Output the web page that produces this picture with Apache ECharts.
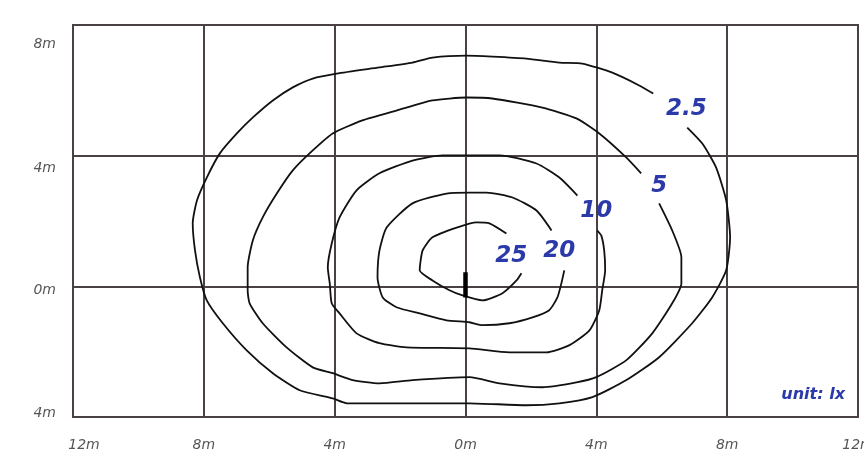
<!DOCTYPE html>
<html><head><meta charset="utf-8">
<script src="https://cdn.jsdelivr.net/npm/echarts@6/dist/echarts.min.js"></script>
<style>html,body{margin:0;padding:0;background:#fff}#c{width:864px;height:457px}</style>
</head><body><div id="c"></div>
<script>
// Tick labels (negative side shown without minus, as in the reference)
const xTickValues = [-12, -8, -4, 0, 4, 8, 12];
const xTickLabels = ['12m', '8m', '4m', '0m', '4m', '8m', '12m'];
const yTickValues = [-4, 0, 4, 8];
const yTickLabels = ['4m', '0m', '4m', '8m'];

// Isolux contour lines [x m, y m] (open where the label sits)
const contour2_5 = [[5.74,5.90],[5.31,6.15],[4.49,6.54],[3.57,6.82],[2.87,6.85],[1.86,6.97],[0.82,7.03],[0.03,7.06],[-1.01,7.00],[-1.62,6.85],[-2.63,6.70],[-3.94,6.51],[-4.67,6.36],[-5.28,6.09],[-5.89,5.69],[-6.50,5.17],[-6.99,4.68],[-7.51,4.07],[-7.91,3.33],[-8.21,2.63],[-8.34,1.93],[-8.27,1.10],[-8.12,0.28],[-7.91,-0.43],[-7.42,-1.13],[-6.69,-1.96],[-5.89,-2.66],[-5.07,-3.18],[-4.06,-3.43],[-3.63,-3.58],[-2.02,-3.58],[0.12,-3.58],[1.86,-3.64],[2.87,-3.58],[3.88,-3.39],[4.92,-2.87],[5.92,-2.17],[6.93,-1.13],[7.54,-0.34],[7.97,0.49],[8.09,1.50],[7.97,2.63],[7.66,3.64],[7.24,4.37],[6.78,4.86]];
const contour5 = [[5.37,3.46],[4.92,3.94],[4.09,4.68],[3.39,5.14],[2.35,5.47],[0.82,5.75],[0.03,5.78],[-1.01,5.69],[-2.11,5.38],[-3.15,5.08],[-4.06,4.68],[-4.67,4.16],[-5.28,3.55],[-5.77,2.84],[-6.20,2.11],[-6.50,1.41],[-6.66,0.58],[-6.66,-0.12],[-6.60,-0.52],[-6.20,-1.13],[-5.47,-1.87],[-4.67,-2.48],[-4.06,-2.66],[-3.45,-2.87],[-2.63,-2.97],[-1.62,-2.87],[0.12,-2.78],[1.04,-2.97],[2.35,-3.09],[3.39,-2.94],[4.00,-2.78],[4.92,-2.26],[5.71,-1.44],[6.32,-0.52],[6.60,0.09],[6.60,0.89],[6.32,1.71],[5.92,2.54]];
const contour10 = [[3.42,2.78],[2.87,3.33],[2.17,3.76],[1.04,4.01],[0.12,4.01],[-0.70,4.01],[-1.62,3.85],[-2.63,3.46],[-3.33,2.94],[-3.85,2.11],[-4.09,1.31],[-4.21,0.58],[-4.15,0.09],[-4.09,-0.52],[-3.85,-0.83],[-3.33,-1.44],[-2.63,-1.74],[-1.80,-1.87],[0.12,-1.90],[1.34,-2.02],[2.47,-2.02],[3.18,-1.80],[3.79,-1.35],[4.09,-0.73],[4.18,-0.12],[4.27,0.49],[4.24,1.10],[4.15,1.56],[4.03,1.71]];
const contour20 = [[2.63,1.71],[2.17,2.32],[1.44,2.72],[0.64,2.87],[0.12,2.87],[-0.58,2.84],[-1.62,2.54],[-2.41,1.80],[-2.63,1.10],[-2.69,0.28],[-2.53,-0.34],[-2.11,-0.64],[-1.40,-0.83],[-0.58,-1.04],[0.12,-1.10],[0.52,-1.19],[1.34,-1.13],[2.05,-0.95],[2.56,-0.73],[2.81,-0.34],[2.93,0.09],[3.02,0.49]];
const contour25 = [[1.25,1.62],[0.73,1.93],[0.34,1.96],[-0.27,1.80],[-1.01,1.50],[-1.31,1.10],[-1.40,0.49],[-1.01,0.18],[-0.49,-0.12],[-0.09,-0.28],[0.52,-0.43],[1.13,-0.21],[1.56,0.18],[1.71,0.40]];

// Contour value labels [x m, y m, text]
const contourLabels = [[6.75,5.44,'2.5'],[5.92,3.06,'5'],[4.00,2.29,'10'],[2.87,1.07,'20'],[1.40,0.92,'25']];
// Luminaire mark at the origin
const luminaire = [[0,-0.34],[0,0.43]];

const FONT = 'DejaVu Sans';
const axisTxt = {color:'#555', fontSize:14, fontStyle:'italic', fontFamily:FONT};
const gridCol = '#4a4242';
const blue = '#2b3aa8';

const contours = [contour2_5, contour5, contour10, contour20, contour25];
const series = contours.map(c => ({
  type:'line', data:c, showSymbol:false, smooth:0.2, silent:true,
  lineStyle:{color:'#111', width:1.8}, z:3
}));
series.push({type:'line', data:luminaire, showSymbol:false, silent:true,
  lineStyle:{color:'#000', width:4.5}, z:4});
series.push({type:'scatter', data:contourLabels, symbolSize:1, silent:true, z:5,
  itemStyle:{color:'rgba(255,255,255,0)', opacity:1},
  label:{show:true, position:'inside', formatter:p=>p.value[2], color:blue, opacity:1,
    textBorderWidth:0, fontSize:23, fontStyle:'italic', fontWeight:'bold', fontFamily:FONT}});

const chart = echarts.init(document.getElementById('c'));
chart.setOption({
  animation:false,
  backgroundColor:'#fff',
  title:{text:'unit: lx', right:14, top:382,
    textStyle:{color:blue, fontSize:16, fontStyle:'italic', fontWeight:'bold', fontFamily:FONT}},
  grid:{left:73, right:6, top:25, bottom:40, show:true, borderColor:gridCol, borderWidth:2,
    containLabel:false, outerBoundsMode:'none'},
  xAxis:{type:'value', min:-12, max:12, interval:4,
    axisLine:{show:true, lineStyle:{color:gridCol, width:2}},
    axisTick:{show:false},
    splitLine:{show:true, lineStyle:{color:gridCol, width:2}},
    axisLabel:{margin:21, ...axisTxt,
      formatter:v=>{const i=xTickValues.indexOf(v); const t=xTickLabels[i]; return v===-12?'{l|'+t+'}':t;},
      rich:{l:{...axisTxt, padding:[0,0,0,22]}}}},
  yAxis:{type:'value', min:-4, max:8, interval:4,
    axisLine:{show:true, lineStyle:{color:gridCol, width:2}},
    axisTick:{show:false},
    splitLine:{show:true, lineStyle:{color:gridCol, width:2}},
    axisLabel:{margin:17, ...axisTxt,
      formatter:v=>{const i=yTickValues.indexOf(v); const t=yTickLabels[i];
        const k={'8':'a','4':'b','0':'c','-4':'d'}[String(v)]; return '{'+k+'|'+t+'}';},
      rich:{a:{...axisTxt, padding:[38,0,0,0]}, b:{...axisTxt, padding:[26,0,0,0]},
            c:{...axisTxt, padding:[8,0,0,0]}, d:{...axisTxt, padding:[0,0,8,0]}}}},
  series:series
});
</script></body></html>
